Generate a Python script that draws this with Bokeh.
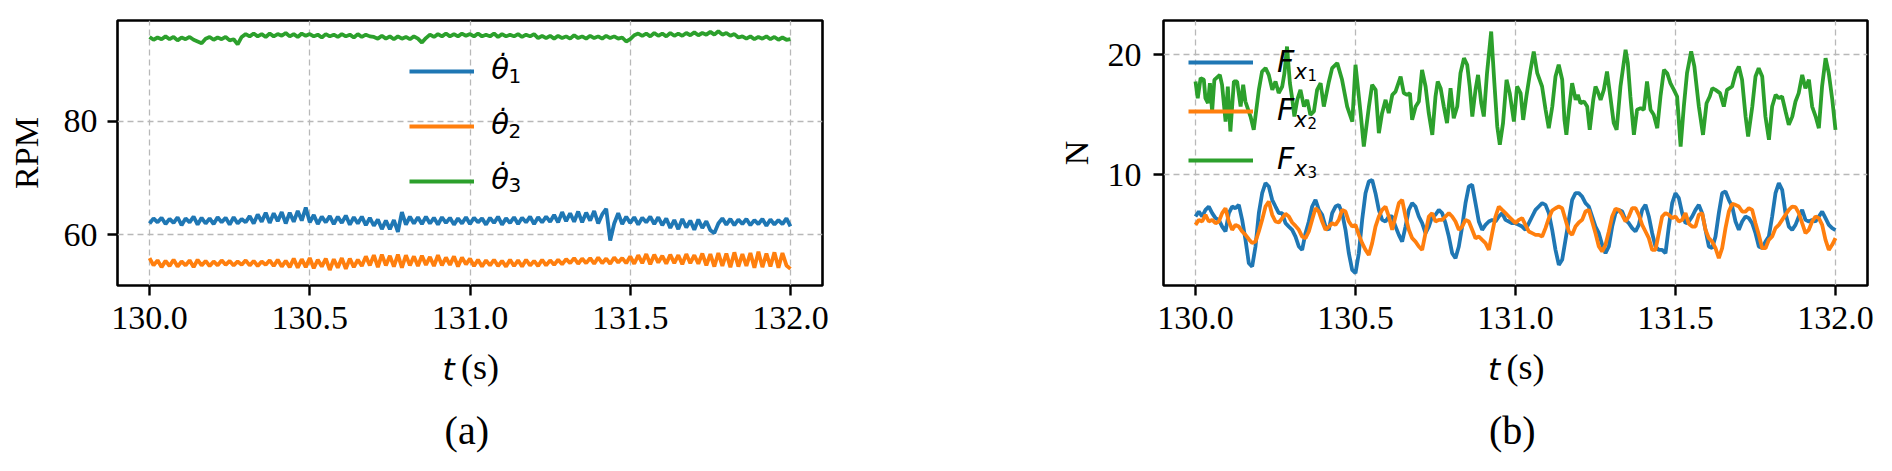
import numpy as np
from bokeh.plotting import figure
from bokeh.models import Range1d, FixedTicker, NumeralTickFormatter, Legend, LegendItem
from bokeh.core.properties import value
from bokeh.layouts import row, column
from bokeh.embed import file_html
from bokeh.resources import INLINE

# ---------------- data ----------------
x_ticks = [130.0, 130.5, 131.0, 131.5, 132.0]
rpm_ticks = [60, 80]
force_ticks = [10, 20]

# (a) wheel speeds, RPM, sampled every 0.0125 s
rpm_t = np.linspace(130.0, 132.0, 161)
theta1_dot = [
    62.0, 62.9, 62.2, 63.0, 61.9, 62.8, 62.1, 63.1, 61.7, 62.9,
    62.2, 63.2, 61.8, 63.0, 62.0, 62.9, 61.9, 63.1, 62.2, 63.0,
    61.8, 63.1, 62.0, 62.8, 62.2, 63.3, 62.0, 63.6, 62.3, 63.9,
    62.1, 63.8, 62.4, 64.0, 62.0, 63.9, 62.3, 64.2, 62.5, 64.8,
    62.2, 63.5, 61.9, 63.2, 62.2, 63.3, 61.9, 63.2, 62.1, 63.4,
    61.8, 63.1, 62.0, 63.2, 61.7, 63.0, 61.6, 62.7, 61.0, 62.5,
    61.0, 62.6, 60.5, 64.0, 61.8, 63.2, 62.0, 63.1, 61.9, 63.2,
    62.0, 63.0, 61.8, 63.1, 62.1, 63.0, 61.8, 62.9, 62.0, 63.1,
    61.9, 63.0, 62.2, 62.9, 61.8, 63.0, 62.1, 63.2, 61.8, 62.9,
    62.1, 63.1, 61.9, 63.0, 62.2, 63.2, 61.9, 63.1, 62.2, 63.2,
    62.3, 63.5, 62.2, 64.0, 62.4, 63.8, 62.3, 64.1, 62.2, 63.9,
    62.5, 64.2, 62.0, 63.6, 64.6, 59.0, 62.0, 63.8, 61.9, 63.2,
    62.1, 63.1, 61.8, 63.0, 62.2, 63.2, 61.9, 63.1, 61.7, 62.9,
    61.2, 62.6, 61.0, 62.8, 61.3, 62.5, 60.9, 62.7, 61.2, 62.4,
    60.8, 60.3, 62.0, 62.9, 61.8, 62.8, 61.7, 62.7, 61.9, 62.8,
    61.7, 62.6, 61.9, 62.8, 61.6, 62.7, 61.8, 62.6, 61.9, 62.9,
    61.5]
theta2_dot = [
    55.9, 54.6, 55.5, 54.3, 55.4, 54.5, 55.6, 54.4, 55.3, 54.6,
    55.5, 54.3, 55.6, 54.6, 55.4, 54.5, 55.3, 54.6, 55.5, 54.7,
    55.4, 54.6, 55.3, 54.7, 55.5, 54.6, 55.4, 54.5, 55.3, 54.7,
    55.5, 54.5, 55.6, 54.4, 55.4, 54.3, 55.8, 54.2, 55.7, 54.3,
    55.9, 54.1, 55.6, 54.4, 55.8, 53.8, 55.7, 54.2, 55.9, 54.0,
    55.8, 54.3, 55.6, 54.5, 56.2, 54.6, 56.4, 54.3, 56.5, 54.6,
    56.3, 54.4, 56.5, 54.2, 56.4, 54.6, 56.2, 54.5, 56.3, 54.7,
    56.1, 54.5, 56.4, 54.6, 56.0, 54.7, 56.2, 54.4, 56.0, 54.8,
    55.8, 54.5, 55.6, 54.4, 55.5, 54.6, 55.6, 54.5, 55.4, 54.4,
    55.6, 54.5, 55.5, 54.4, 55.6, 54.6, 55.4, 54.5, 55.6, 54.6,
    55.5, 54.7, 55.6, 54.8, 55.7, 55.0, 55.9, 54.9, 55.8, 55.0,
    55.9, 54.9, 56.0, 55.0, 55.8, 54.9, 56.0, 55.1, 55.9, 55.0,
    56.2, 54.9, 56.4, 55.0, 56.6, 54.8, 56.5, 55.1, 56.3, 54.9,
    56.5, 55.0, 56.4, 54.8, 56.6, 55.0, 56.4, 54.9, 56.7, 54.6,
    56.6, 54.4, 56.8, 54.5, 56.7, 54.3, 56.9, 54.4, 56.6, 54.5,
    56.8, 54.2, 57.0, 54.3, 56.7, 54.4, 56.9, 54.2, 56.8, 54.6,
    54.0]
theta3_dot = [
    94.9, 94.4, 94.8, 94.5, 95.0, 94.5, 94.9, 94.3, 94.8, 94.5,
    94.9, 94.4, 94.1, 93.8, 94.6, 94.9, 94.4, 94.8, 94.5, 94.9,
    94.3, 94.5, 93.6, 94.9, 95.4, 95.0, 95.5, 95.0, 95.4, 94.9,
    95.5, 95.0, 95.4, 95.1, 95.6, 95.0, 95.4, 94.9, 95.5, 95.1,
    95.4, 95.0, 95.3, 94.8, 95.4, 95.0, 95.3, 94.9, 95.4, 95.0,
    95.3, 94.8, 95.4, 94.9, 95.3, 95.0, 94.9, 94.6, 95.1, 94.6,
    95.0, 94.5, 95.0, 94.6, 94.9, 94.5, 95.0, 94.6, 93.9, 94.7,
    95.3, 94.9, 95.4, 95.0, 95.5, 95.0, 95.4, 95.0, 95.5, 95.1,
    95.4, 95.0, 95.5, 95.0, 95.3, 95.0, 95.5, 94.9, 95.4, 95.0,
    95.3, 95.0, 95.4, 94.9, 95.3, 95.0, 95.4, 94.7, 95.1, 94.7,
    95.1, 94.6, 95.1, 94.7, 95.0, 94.6, 95.2, 94.7, 95.0, 94.6,
    95.1, 94.7, 95.0, 94.6, 95.1, 94.7, 95.0, 94.6, 94.8, 94.1,
    94.5, 95.2, 95.5, 95.1, 95.5, 95.0, 95.6, 95.1, 95.5, 95.0,
    95.6, 95.1, 95.5, 95.1, 95.6, 95.2, 95.7, 95.2, 95.6, 95.3,
    95.8, 95.3, 95.9, 95.3, 95.6, 95.1, 95.4, 94.8, 95.0, 94.6,
    95.0, 94.5, 94.9, 94.6, 95.0, 94.5, 94.9, 94.4, 94.8, 94.4,
    94.5]

# (b) forces, N; Fx1 and Fx2 sampled every 1/96 s
force_t = np.linspace(130.0, 132.0, 193)
fx1 = [
    6.53, 6.94, 6.53, 7.08, 7.36, 6.81, 6.39, 6.25, 5.69, 5.28,
    6.81, 7.36, 7.22, 7.5, 6.25, 4.58, 2.64, 2.36, 4.03, 6.81,
    8.47, 9.31, 9.03, 7.92, 7.36, 6.81, 6.81, 5.97, 5.69, 5.42,
    4.86, 4.03, 3.75, 5.14, 6.11, 7.36, 7.92, 7.08, 6.67, 5.69,
    5.42, 6.81, 7.36, 7.5, 6.81, 5.42, 3.47, 2.08,
    1.81, 3.47, 6.25, 8.47, 9.44, 9.58, 8.47, 7.08, 6.25, 6.11,
    6.53, 6.53, 5.69, 5.0, 4.44, 5.69, 7.08, 7.64, 7.36, 6.53,
    5.97, 5.14, 5.69, 6.53, 6.67, 7.08, 6.81, 5.97, 4.86, 3.47,
    3.06, 4.03, 5.69, 7.64, 9.03, 9.17, 7.64, 6.11, 5.42, 5.83,
    6.11, 6.25, 6.11, 6.53, 6.81, 6.25, 6.11, 5.97,
    5.97, 5.83, 5.69, 5.42, 5.97, 6.53, 7.08, 7.36, 7.64, 7.5,
    6.81, 5.42, 3.75, 2.5, 2.92, 4.58, 6.25, 7.92, 8.47, 8.47,
    8.19, 7.64, 7.36, 6.53, 5.69, 5.14, 4.17, 3.47, 4.03, 5.69,
    6.81, 7.08, 6.94, 6.25, 5.97, 5.56, 5.28, 5.83, 7.08, 7.5,
    6.53, 5.14, 4.03, 3.75, 3.75, 3.47, 5.69, 7.64,
    8.47, 8.06, 6.81, 5.97, 6.11, 6.53, 7.08, 7.5, 6.81, 5.42,
    4.03, 3.89, 4.86, 6.81, 8.47, 8.61, 7.92, 7.36, 6.11, 5.42,
    6.11, 6.53, 6.39, 5.97, 5.14, 4.03, 3.89, 4.44, 4.86, 6.53,
    8.47, 9.31, 8.75, 6.81, 5.69, 5.42, 5.83, 6.53, 7.08, 6.25,
    6.11, 6.25, 6.11, 6.53, 6.94, 6.39, 5.83, 5.56,
    5.4]
fx2 = [
    5.83, 6.25, 6.11, 6.67, 6.11, 6.25, 5.97, 6.11, 6.81, 7.22,
    6.11, 5.42, 5.83, 5.69, 5.28, 5.0, 4.64, 4.31, 4.44, 5.28,
    6.25, 7.36, 7.78, 6.67, 6.11, 6.03, 6.39, 6.75, 6.53, 6.03,
    5.75, 5.42, 4.86, 4.72, 5.28, 6.25, 7.22, 6.94, 6.11, 5.42,
    5.69, 5.97, 5.83, 6.25, 7.08, 6.94, 6.11, 5.69,
    5.83, 5.0, 4.31, 3.75, 3.33, 4.31, 5.69, 6.53, 7.08, 7.36,
    6.53, 5.42, 6.53, 7.64, 7.92, 6.53, 5.42, 4.72, 4.44, 4.03,
    3.75, 5.14, 6.53, 6.81, 6.11, 6.25, 6.25, 6.53, 6.81, 6.53,
    6.11, 5.42, 5.69, 6.25, 6.11, 5.42, 4.72, 4.86, 4.58, 4.31,
    3.75, 5.14, 6.53, 7.36, 7.08, 6.81, 6.53, 6.25,
    5.97, 6.25, 6.39, 5.83, 5.28, 5.14, 5.0, 5.0, 4.86, 5.56,
    6.39, 7.03, 7.22, 7.36, 7.22, 6.25, 5.28, 5.0, 5.69, 6.03,
    6.25, 6.94, 7.08, 6.11, 5.14, 4.03, 3.61, 4.17, 5.28, 6.53,
    7.17, 7.08, 6.67, 6.11, 6.53, 7.22, 7.22, 6.67, 5.83, 5.28,
    4.72, 3.75, 3.75, 5.14, 6.53, 6.81, 6.67, 6.39,
    6.53, 6.11, 6.25, 6.81, 5.92, 5.69, 5.69, 6.67, 6.81, 5.42,
    4.72, 4.44, 3.89, 3.06, 3.89, 5.56, 6.94, 7.58, 7.5, 7.36,
    6.94, 6.94, 7.22, 7.08, 5.97, 5.0, 3.89, 3.89, 4.58, 4.86,
    5.56, 5.83, 6.25, 6.67, 7.08, 7.36, 7.31, 6.81, 5.97, 5.14,
    5.42, 6.11, 6.53, 6.39, 5.83, 4.58, 3.75, 4.17,
    4.72]
# Fx3 read at its turning points
fx3_t = [
    130.000, 130.007, 130.016, 130.026, 130.031, 130.039, 130.045, 130.052, 130.059, 130.076,
    130.083, 130.094, 130.101, 130.109, 130.120, 130.130, 130.141, 130.149, 130.156, 130.172,
    130.182, 130.198, 130.208, 130.219, 130.229, 130.240, 130.250, 130.260, 130.271, 130.278,
    130.286, 130.295, 130.302, 130.309, 130.318, 130.328, 130.339, 130.349, 130.359, 130.370,
    130.380, 130.391, 130.401, 130.417, 130.427, 130.443, 130.458, 130.474, 130.490,
    130.500, 130.516, 130.526, 130.542, 130.552, 130.563, 130.573, 130.583, 130.594, 130.604,
    130.615, 130.625, 130.641, 130.651, 130.661, 130.670, 130.677, 130.688, 130.698, 130.708,
    130.719, 130.729, 130.740, 130.750, 130.757, 130.766, 130.776, 130.786, 130.797, 130.807,
    130.818, 130.828, 130.839, 130.849, 130.857, 130.865, 130.875, 130.883, 130.893, 130.901,
    130.911, 130.924, 130.934, 130.943, 130.951, 130.961, 130.972, 130.982, 130.995,
    131.005, 131.016, 131.024, 131.034, 131.047, 131.057, 131.068, 131.083, 131.094, 131.104,
    131.115, 131.125, 131.135, 131.146, 131.153, 131.159, 131.167, 131.177, 131.188, 131.195,
    131.203, 131.214, 131.224, 131.232, 131.243, 131.250, 131.257, 131.266, 131.276, 131.286,
    131.297, 131.307, 131.316, 131.328, 131.344, 131.351, 131.359, 131.370, 131.380, 131.391,
    131.401, 131.411, 131.422, 131.432, 131.443, 131.453, 131.464, 131.474, 131.484, 131.495,
    131.505, 131.516, 131.526, 131.536, 131.549, 131.559, 131.573, 131.586, 131.597, 131.607,
    131.615, 131.625, 131.639, 131.651, 131.661, 131.677, 131.688, 131.698, 131.708, 131.719,
    131.727, 131.740, 131.750, 131.760, 131.771, 131.781, 131.792, 131.802, 131.813, 131.823,
    131.833, 131.844, 131.854, 131.865, 131.875, 131.885, 131.896, 131.906, 131.917, 131.927,
    131.938, 131.948, 131.958, 131.969, 131.979, 131.990, 132.000]
fx3 = [
    17.78, 16.39, 18.06, 17.92, 16.39, 15.97, 17.64, 15.28, 17.92, 18.33,
    17.5, 14.44, 17.36, 13.61, 17.78, 17.78, 15.69, 17.5, 16.11, 14.86,
    13.75, 17.08, 18.61, 18.89, 18.33, 17.08, 17.78, 16.81, 17.36, 18.47,
    20.69, 17.64, 16.39, 14.86, 16.25, 17.08, 15.69, 16.25, 15.0, 15.28,
    17.08, 17.64, 15.69, 17.78, 18.89, 19.31, 17.92, 15.69, 14.44,
    19.17, 15.14, 12.36, 15.69, 17.5, 17.08, 13.47, 15.14, 16.25, 15.14,
    16.67, 16.94, 18.19, 16.81, 16.67, 16.81, 14.58, 15.69, 16.11, 18.75,
    17.36, 15.14, 13.33, 16.53, 17.78, 17.22, 15.69, 14.31, 17.22, 14.72,
    15.69, 18.47, 19.72, 19.17, 17.36, 14.86, 17.08, 18.33, 15.97, 14.86,
    18.47, 21.94, 17.64, 14.03, 12.5, 14.31, 17.92, 16.81, 14.44,
    17.36, 16.81, 14.58, 16.53, 18.75, 20.28, 18.47, 17.36, 15.42, 13.89,
    15.69, 18.19, 19.17, 17.92, 14.58, 13.33, 15.42, 17.64, 16.25, 16.67,
    15.97, 16.11, 15.69, 13.75, 16.25, 17.36, 16.94, 16.25, 17.08, 18.61,
    16.39, 14.31, 13.75, 17.36, 20.42, 19.31, 16.53, 13.33, 15.42, 15.56,
    15.42, 17.78, 15.42, 15.0, 13.89, 16.53, 18.75, 18.47, 17.64, 17.08,
    16.53, 12.36, 15.69, 18.47, 20.28, 19.03, 15.69, 13.33, 15.97, 16.53,
    17.22, 17.08, 16.81, 15.69, 17.08, 17.36, 18.47, 19.03, 17.92, 14.86,
    13.19, 15.69, 18.19, 18.89, 18.19, 14.86, 12.92, 15.69, 16.67, 16.39,
    16.53, 15.28, 14.17, 14.86, 16.11, 16.81, 18.33, 17.22, 17.92, 15.69,
    14.86, 13.89, 17.36, 19.72, 18.47, 16.25, 13.75]

# legend and caption texts
rpm_names = ["θ̇", "θ̇", "θ̇"]
rpm_subs = ["1", "2", "3"]
force_names = ["F", "F", "F"]
force_subs = ["x", "x", "x"]
force_subsubs = ["1", "2", "3"]

BLUE, ORANGE, GREEN = "#1f77b4", "#ff7f0e", "#2ca02c"
COLORS = [BLUE, ORANGE, GREEN]
SERIF = "Liberation Serif"
SANS = "DejaVu Sans"
MAIN_H, CAP_H = 344, 121


def make_panel(width, left, right, yr, yticks, ylabel, label_standoff, ylabel_standoff):
    p = figure(width=width, height=MAIN_H, output_backend="svg", toolbar_location=None,
               title=None, x_range=Range1d(129.9, 132.1), y_range=Range1d(*yr),
               min_border_left=left, min_border_right=right,
               min_border_top=20, min_border_bottom=MAIN_H - 285)
    p.background_fill_color = "white"
    p.border_fill_color = "white"
    p.outline_line_color = "black"
    p.outline_line_width = 2.6
    for ax in (p.xaxis[0], p.yaxis[0]):
        ax.axis_line_color = None
        ax.major_tick_out = 10
        ax.major_tick_in = 0
        ax.major_tick_line_width = 2.4
        ax.minor_tick_line_color = None
        ax.major_label_text_font = SERIF
        ax.major_label_text_font_size = "34px"
        ax.major_label_text_color = "black"
    p.xaxis.ticker = FixedTicker(ticks=x_ticks)
    p.xaxis.formatter = NumeralTickFormatter(format="0.0")
    p.xaxis.major_label_standoff = 11
    p.yaxis.ticker = FixedTicker(ticks=yticks)
    p.yaxis.major_label_standoff = label_standoff
    p.yaxis.axis_label = ylabel
    p.yaxis.axis_label_text_font = SERIF
    p.yaxis.axis_label_text_font_style = "normal"
    p.yaxis.axis_label_text_font_size = "34px"
    p.yaxis.axis_label_text_color = "black"
    p.yaxis.axis_label_standoff = ylabel_standoff
    for g in (p.xgrid[0], p.ygrid[0]):
        g.grid_line_color = "#b8b8b8"
        g.grid_line_width = 1.3
        g.grid_line_dash = "6 4"
    return p


def make_caption(width, left, right, xr, letter):
    c = figure(width=width, height=CAP_H, output_backend="svg", toolbar_location=None,
               title=None, x_range=xr, y_range=Range1d(CAP_H, 0),
               x_axis_type=None, y_axis_type=None,
               min_border_left=left, min_border_right=right,
               min_border_top=0, min_border_bottom=0)
    c.outline_line_color = None
    c.background_fill_color = "white"
    c.border_fill_color = "white"
    c.text(x=[130.952], y=[24.3], text=["t"], text_font=value(SANS), text_font_style="italic",
           text_font_size="31px", text_align="right", text_baseline="middle",
           text_color="black")
    c.text(x=[130.972], y=[22.9], text=["(s)"], text_font=value(SERIF),
           text_font_size="36px", text_align="left", text_baseline="middle",
           text_color="black")
    c.text(x=[130.99], y=[85.5], text=[letter], text_font=value(SERIF),
           text_font_size="40px", text_align="center", text_baseline="middle",
           text_color="black")
    return c


def blank_legend(p, renderers, loc, spacing):
    items = [LegendItem(label=value(" "), renderers=[r]) for r in renderers]
    lg = Legend(items=items, location=loc)
    lg.background_fill_alpha = 0
    lg.border_line_alpha = 0
    lg.padding = 0
    lg.margin = 0
    lg.spacing = spacing
    lg.glyph_width = 65
    lg.glyph_height = 36
    lg.label_height = 36
    lg.label_standoff = 0
    lg.label_text_font_size = "16px"
    p.add_layout(lg)


# ---------------- panel (a) ----------------
pa = make_panel(950, 117, 128, (51.06, 97.8), rpm_ticks, "RPM", 10, 16)
ra = [pa.line(rpm_t, s, color=c, line_width=3.8)
      for s, c in zip([theta1_dot, theta2_dot, theta3_dot], COLORS)]
blank_legend(pa, ra, (292, 86), 19)
pa.text(x=[131.066] * 3, y=[89.25, 79.55, 69.93], text=rpm_names, text_font=value(SANS),
        text_font_style="italic", text_font_size="29px", text_baseline="middle",
        text_color="black")
pa.text(x=[131.12] * 3, y=[88.0, 78.3, 68.7], text=rpm_subs, text_font=value(SANS),
        text_font_size="20px", text_baseline="middle", text_color="black")
ca = make_caption(950, 117, 128, pa.x_range, "(a)")

# ---------------- panel (b) ----------------
pb = make_panel(940, 213, 23, (0.78, 22.86), force_ticks, "N", 12, 10)
rb = [pb.line(force_t, fx1, color=BLUE, line_width=3.8),
      pb.line(force_t, fx2, color=ORANGE, line_width=3.8),
      pb.line(fx3_t, fx3, color=GREEN, line_width=3.8)]
blank_legend(pb, rb, (25, 107), 13)
pb.text(x=[130.255] * 3, y=[19.47, 15.43, 11.38], text=force_names, text_font=value(SANS),
        text_font_style="italic", text_font_size="30px", text_baseline="middle",
        text_color="black")
pb.text(x=[130.309] * 3, y=[18.6, 14.56, 10.52], text=force_subs, text_font=value(SANS),
        text_font_style="italic", text_font_size="21px", text_baseline="middle",
        text_color="black")
pb.text(x=[130.35] * 3, y=[18.33, 14.29, 10.25], text=force_subsubs, text_font=value(SANS),
        text_font_size="15px", text_baseline="middle", text_color="black")
cb = make_caption(940, 213, 23, pb.x_range, "(b)")

layout = row(column(pa, ca), column(pb, cb))
open("out.html", "w").write(file_html(layout, INLINE))
